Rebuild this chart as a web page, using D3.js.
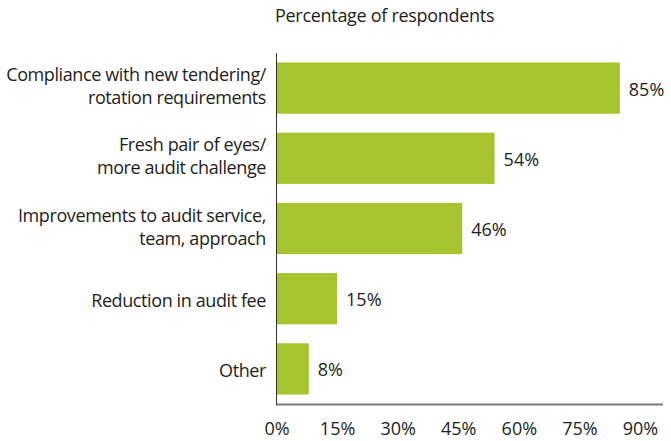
<!DOCTYPE html>
<html>
<head>
<meta charset="utf-8">
<script src="https://cdn.jsdelivr.net/npm/d3@7"></script>
<style>
  html, body { margin: 0; padding: 0; background: #fff; }
  svg { display: block; }
  text { font-family: "Open Sans", "Noto Sans", sans-serif; fill: #1e1e1e; }
</style>
</head>
<body>
<svg id="chart" width="671" height="441"></svg>
<script>
const categories = [
  ["Compliance with new tendering/", "rotation requirements"],
  ["Fresh pair of eyes/", "more audit challenge"],
  ["Improvements to audit service,", "team, approach"],
  ["Reduction in audit fee"],
  ["Other"]
];
const values = [85, 54, 46, 15, 8];
const tickValues = [0, 15, 30, 45, 60, 75, 90];
const title = "Percentage of respondents";

const svg = d3.select("#chart");
const fontSize = 18;
const x = d3.scaleLinear().domain([0, 90]).range([276.5, 640]);
const y = d3.scaleBand().domain(d3.range(values.length)).range([53, 404])
  .paddingInner(0.27).paddingOuter(0.135);

// title
svg.append("text").attr("x", 275).attr("y", 22)
  .style("font-size", fontSize + "px").style("letter-spacing", "-0.3px").text(title);

// bars
svg.append("g").selectAll("rect").data(values).join("rect")
  .attr("x", x(0)).attr("y", (d, i) => y(i))
  .attr("width", d => x(d) - x(0)).attr("height", y.bandwidth())
  .attr("fill", "#a6c42e");

// value labels
svg.append("g").selectAll("text").data(values).join("text")
  .attr("x", d => x(d) + 9).attr("y", (d, i) => y(i) + y.bandwidth() / 2 + 7.5)
  .style("font-size", fontSize + "px").text(d => d + "%");

// category labels
const lineH = 23;
const cg = svg.append("g");
categories.forEach((lines, i) => {
  const cy = y(i) + y.bandwidth() / 2;
  const off = lines.length > 1 ? 4.5 : 8.3;
  const t = cg.append("text").attr("text-anchor", "end")
    .style("font-size", fontSize + "px").style("letter-spacing", "-0.4px");
  lines.forEach((ln, j) => {
    t.append("tspan").attr("x", 266)
      .attr("y", cy + off + (j - (lines.length - 1) / 2) * lineH).text(ln);
  });
});

// x axis
const xAxis = d3.axisBottom(x).tickValues(tickValues).tickSize(0).tickPadding(0)
  .tickFormat(d => d + "%");
const gx = svg.append("g").attr("transform", "translate(0,404)").call(xAxis);
gx.select(".domain").remove();
gx.selectAll("text").attr("y", 31).attr("dy", null)
  .style("font-size", fontSize + "px").style("font-family", "'Open Sans', sans-serif")
  .attr("fill", "#1e1e1e");

svg.append("line").attr("x1", 276).attr("x2", 663).attr("y1", 404.5).attr("y2", 404.5)
  .attr("stroke", "#7a7a7a").attr("stroke-width", 2);
svg.append("line").attr("x1", 276.5).attr("x2", 276.5).attr("y1", 53).attr("y2", 405)
  .attr("stroke", "#333").attr("stroke-width", 1);
</script>
</body>
</html>
